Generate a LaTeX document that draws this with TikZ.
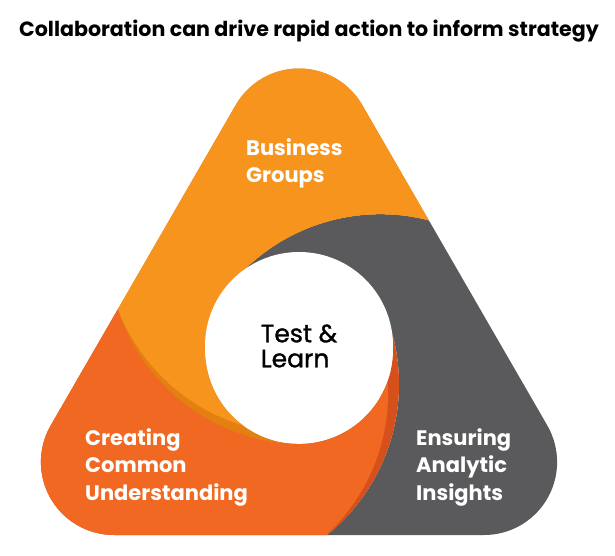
\documentclass[tikz,border=0pt]{standalone}
\usepackage{fontspec}
\setmainfont{Poppins}
\newfontfamily\hubfont[BoldFont={Poppins}, BoldFeatures={FakeBold=1.2}]{Poppins}
\usetikzlibrary{positioning}

\definecolor{segyellow}{HTML}{F7941D}
\definecolor{segyellowdk}{HTML}{E3800F}
\definecolor{segred}{HTML}{F16822}
\definecolor{segreddk}{HTML}{D6501B}
\definecolor{seggrey}{HTML}{5A5A5C}

\newcommand{\triframe}{(113.9,20) -- (484.1,20) arc[start angle=-90, end angle=30, radius=73]
  -- (362.2,450) arc[start angle=30, end angle=150, radius=73]
  -- (50.7,129.5) arc[start angle=150, end angle=270, radius=73] -- cycle}
\newcommand{\greypart}{([shift={(144.4:194)}]gc) arc[start angle=144.4, end angle=60, radius=194]
  -- (700,315) -- (700,-100) -- ([shift={(-65:194)}]rc) arc[start angle=-65, end angle=20, radius=194]
  arc[start angle=20, end angle=144.4, radius=94] -- cycle}
\newcommand{\yellowpart}{([shift={(268:194)}]yc) arc[start angle=268, end angle=180, radius=194]
  -- (-100,304.9) -- (-100,700) -- (700,700) -- ([shift={(60:194)}]gc) arc[start angle=60, end angle=144.4, radius=194]
  arc[start angle=144.4, end angle=268, radius=94] -- cycle}
\newcommand{\redpart}{([shift={(20:194)}]rc) arc[start angle=20, end angle=-65, radius=194]
  -- (-100,-100) -- (-100,304.9) -- ([shift={(180:194)}]yc) arc[start angle=180, end angle=268, radius=194]
  arc[start angle=268, end angle=380, radius=94] -- cycle}

\begin{document}
\begin{tikzpicture}[x=1pt, y=1pt,
  seglabel/.style={text=white, font=\fontsize{21}{27.5}\selectfont\bfseries, align=left, anchor=base west, inner sep=0pt}]
  \useasboundingbox (0,0) rectangle (615,555);
  \fill[white] (0,0) rectangle (615,555);
  \coordinate (gc) at (380.3,146.8);
  \coordinate (yc) at (302.5,304.9);
  \coordinate (rc) at (205.0,170.8);
  \node[font=\fontsize{20.6}{24}\selectfont\bfseries, anchor=base] (title) at (309,518) {Collaboration can drive rapid action to inform strategy};
  \begin{scope}
    \clip \triframe;
    \fill[seggrey] \greypart;
    \begin{scope}
      \clip \yellowpart;
      \fill[segyellowdk] (-100,-100) rectangle (700,700);
      \fill[segyellow] ([shift={(108:11)}]yc) circle[radius=194];
    \end{scope}
    \begin{scope}
      \clip \redpart;
      \fill[segreddk] (-100,-100) rectangle (700,700);
      \fill[segred] ([shift={(219:14)}]rc) circle[radius=194];
    \end{scope}
  \end{scope}
  \node[circle, fill=white, minimum size=188, inner sep=0pt, align=left, font=\hubfont\bfseries\fontsize{25}{25}\selectfont] (hub) at (299,209) {Test \&\\Learn};
  \node[seglabel] (business) at (246,372) {Business\\Groups};
  \node[seglabel] (creating) at (85,55) {Creating\\Common\\Understanding};
  \node[seglabel] (ensuring) at (416,55) {Ensuring\\Analytic\\Insights};
\end{tikzpicture}
\end{document}
